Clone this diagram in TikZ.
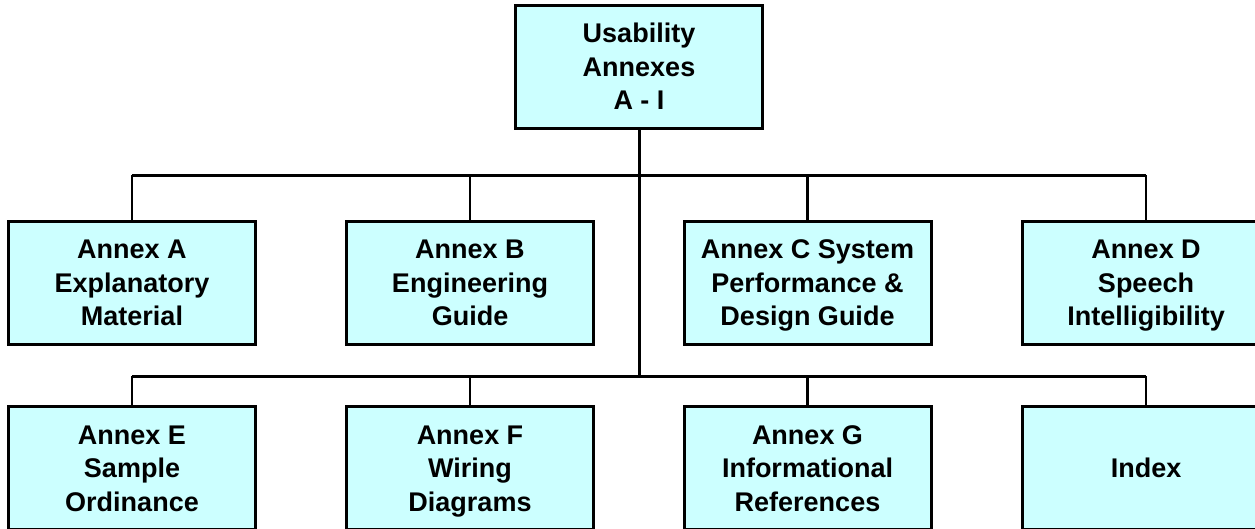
\documentclass[tikz,border=0pt]{standalone}
\usepackage{fontspec}
\setmainfont{Liberation Sans}
\definecolor{boxfill}{HTML}{CCFFFF}
\newcommand{\tl}[1]{\rule{0pt}{29.5pt}#1}
\newcommand{\bl}[1]{\rule[-10pt]{0pt}{10pt}#1}
\begin{document}
\begin{tikzpicture}[x=1pt,y=-1pt,
  annex/.style={draw=black,line width=3pt,fill=boxfill,minimum width=247pt,minimum height=123pt,
    inner sep=0pt,align=center,font=\fontsize{27}{33.5}\selectfont\bfseries},
  bus/.style={line width=3pt},
  branch/.style={line width=2.4pt}]
\clip (0,0) rectangle (1255,528);
\fill[white] (0,0) rectangle (1255,528);
\node[annex] (top) at (639,66.5) {\tl{Usability}\\Annexes\\\bl{A - I}};
\node[annex] (a) at (132,282.5) {\tl{Annex A}\\Explanatory\\\bl{Material}};
\node[annex] (b) at (470,282.5) {\tl{Annex B}\\Engineering\\\bl{Guide}};
\node[annex] (c) at (807.5,282.5) {\tl{Annex C System}\\Performance \&\\\bl{Design Guide}};
\node[annex] (d) at (1146,282.5) {\tl{Annex D}\\Speech\\\bl{Intelligibility}};
\node[annex] (e) at (132,468) {\tl{Annex E}\\Sample\\\bl{Ordinance}};
\node[annex] (f) at (470,468) {\tl{Annex F}\\Wiring\\\bl{Diagrams}};
\node[annex] (g) at (807.5,468) {\tl{Annex G}\\Informational\\\bl{References}};
\node[annex] (i) at (1146,468) {\tl{\bl{Index}}};
\coordinate (j1) at (639,175);
\coordinate (j2) at (639,376);
\draw[bus] (top.south) -- (j2);
\draw[bus] (a.north |- j1) -- (d.north |- j1);
\draw[bus] (e.north |- j2) -- (i.north |- j2);
\foreach \n in {a,b,c,d}{\draw[branch] (\n.north) -- (\n.north |- j1);}
\foreach \n in {e,f,g,i}{\draw[branch] (\n.north) -- (\n.north |- j2);}
\end{tikzpicture}
\end{document}
